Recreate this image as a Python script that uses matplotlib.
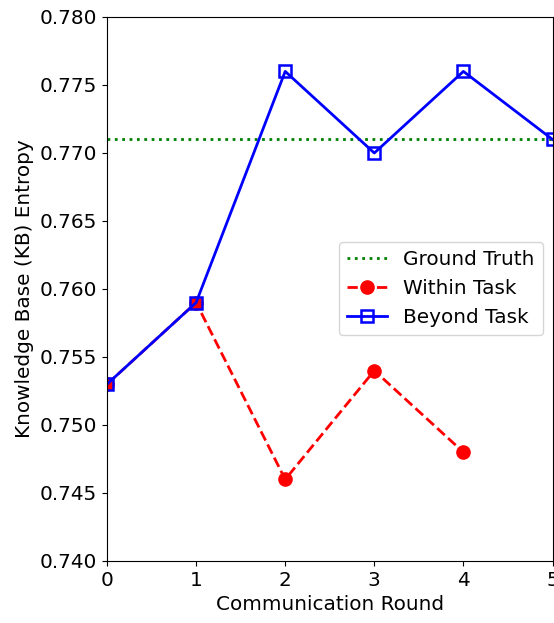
import matplotlib
matplotlib.use("Agg")
import matplotlib.pyplot as plt

# data
rounds_within = [0, 1, 2, 3, 4]
within_task = [0.753, 0.759, 0.746, 0.754, 0.748]
rounds_beyond = [0, 1, 2, 3, 4, 5]
beyond_task = [0.753, 0.759, 0.776, 0.770, 0.776, 0.771]
ground_truth = 0.771

plt.rcParams['font.size'] = 14.4

fig = plt.figure(figsize=(5.54, 6.23), dpi=100)
ax = fig.add_axes([107/554, 1 - 561/623, (552.5 - 107)/554, (561 - 17)/623])

ax.axhline(ground_truth, color='green', linestyle=':', linewidth=2, label='Ground Truth')
ax.plot(rounds_within, within_task, 'o--', color='red', linewidth=2, markersize=9.5,
        label='Within Task')
ax.plot(rounds_beyond, beyond_task, 's-', color='blue', linewidth=2, markersize=9,
        markerfacecolor='none', markeredgewidth=1.8, label='Beyond Task')

ax.set_xlim(0, 5)
ax.set_ylim(0.740, 0.780)
ax.set_xticks([0, 1, 2, 3, 4, 5])
ax.set_yticks([0.740, 0.745, 0.750, 0.755, 0.760, 0.765, 0.770, 0.775, 0.780])
ax.set_yticklabels(['%.3f' % v for v in ax.get_yticks()])
ax.set_xlabel('Communication Round')
ax.set_ylabel('Knowledge Base (KB) Entropy')
ax.legend(loc='center right')

fig.savefig('out.png', dpi=100)
